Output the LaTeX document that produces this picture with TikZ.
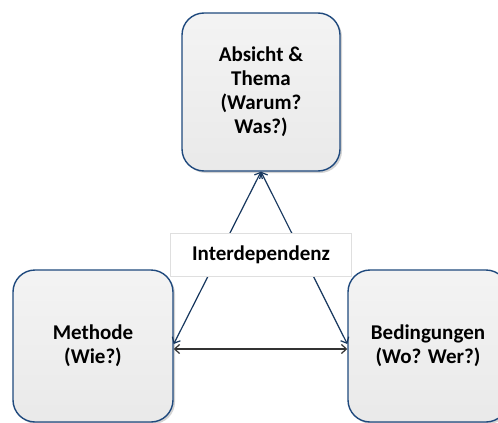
\documentclass[tikz,border=0pt]{standalone}
\usepackage{fontspec}
\setmainfont{Carlito}
\usetikzlibrary{shapes,arrows.meta,positioning,calc,shadows}
\definecolor{BoxBlue}{RGB}{31, 73, 125}
\definecolor{ArrowBlue}{RGB}{23, 55, 94}

\begin{document}
\begin{tikzpicture}[x=1pt, y=-1pt, >={Straight Barb[length=5pt, width=9pt]},
  box/.style={draw=BoxBlue, line width=1.4pt, top color=gray!9, bottom color=gray!17,
    rounded corners=22pt,
    drop shadow={shadow xshift=2pt, shadow yshift=-2pt, opacity=0.35},
    align=center, font=\fontsize{21}{24}\selectfont\bfseries},
  link/.style={<->, line width=1.2pt, ArrowBlue}]
  \useasboundingbox (0,0) rectangle (498,423);

  % Boxes
  \node[box, minimum width=158pt, minimum height=158pt] (thema) at (261,92)
    {Absicht \&\\Thema\\(Warum?\\Was?)};
  \node[box, minimum width=160pt, minimum height=152pt] (methode) at (93,346)
    {Methode\\(Wie?)};
  \node[box, minimum width=160pt, minimum height=152pt] (bed) at (428,346)
    {Bedingungen\\(Wo? Wer?)};

  % Connectors
  \draw[link] (thema.south) -- ([yshift=2pt]methode.east);
  \draw[link] (thema.south) -- ([yshift=2pt]bed.west);
  \draw[link, black!80] ([yshift=-3pt]methode.east) -- ([yshift=-3pt]bed.west);

  % Label
  \node[draw=gray!25, fill=white, minimum width=181pt, minimum height=43pt,
    font=\fontsize{21}{24}\selectfont\bfseries] (inter) at (261,255) {Interdependenz};
\end{tikzpicture}
\end{document}
